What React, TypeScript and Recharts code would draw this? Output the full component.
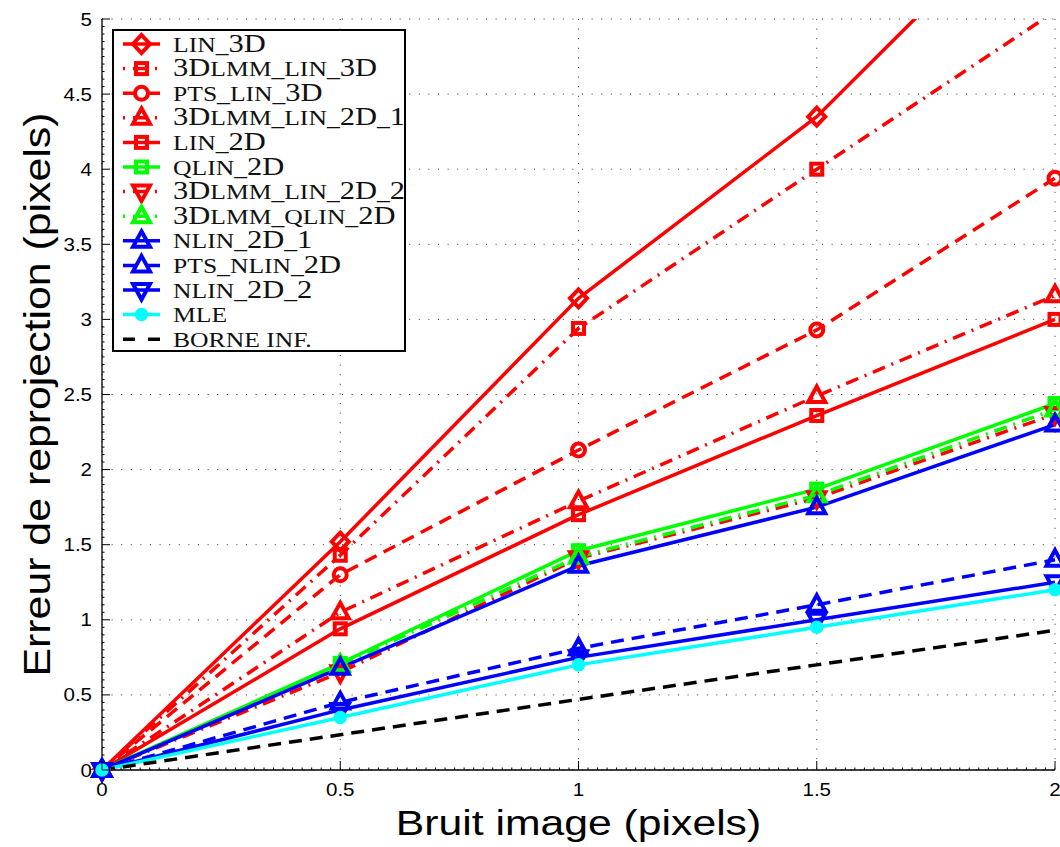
import React from 'react';
import { LineChart, Line, XAxis, YAxis, CartesianGrid, Legend } from 'recharts';

// ---- data ----
const noiseLevels = [0, 0.5, 1, 1.5, 2];

const lin3D = [0, 1.52, 3.14, 4.35, 5.93];
const dlmmLin3D = [0, 1.43, 2.94, 4.0, 5.05];
const ptsLin3D = [0, 1.3, 2.13, 2.93, 3.94];
const dlmmLin2D1 = [0, 1.05, 1.79, 2.49, 3.16];
const lin2D = [0, 0.94, 1.7, 2.36, 3.0];
const qlin2D = [0, 0.71, 1.46, 1.87, 2.44];
const dlmmLin2D2 = [0, 0.65, 1.41, 1.81, 2.37];
const dlmmQlin2D = [0, 0.7, 1.42, 1.83, 2.4];
const nlin2D1 = [0, 0.68, 1.36, 1.75, 2.3];
const ptsNlin2D = [0, 0.45, 0.81, 1.1, 1.4];
const nlin2D2 = [0, 0.4, 0.75, 1.0, 1.25];
const mle = [0, 0.35, 0.7, 0.95, 1.2];
const borneInf = [0, 0.235, 0.47, 0.7, 0.93];

const seriesLabels = [
  'LIN_3D', '3DLMM_LIN_3D', 'PTS_LIN_3D', '3DLMM_LIN_2D_1', 'LIN_2D', 'QLIN_2D',
  '3DLMM_LIN_2D_2', '3DLMM_QLIN_2D', 'NLIN_2D_1', 'PTS_NLIN_2D', 'NLIN_2D_2', 'MLE', 'BORNE INF.',
];

const xMajorTicks = [0, 0.5, 1, 1.5, 2];
const xTickLabels = ['0', '0.5', '1', '1.5', '2'];
const yMajorTicks = [0, 0.5, 1, 1.5, 2, 2.5, 3, 3.5, 4, 4.5, 5];
const yTickLabels = ['0', '0.5', '1', '1.5', '2', '2.5', '3', '3.5', '4', '4.5', '5'];
const xMinorTicks = Array.from({ length: 101 }, (_, i) => i / 50);
const yMinorTicks = Array.from({ length: 101 }, (_, i) => i / 20);

const xTitle = 'Bruit image (pixels)';
const yTitle = 'Erreur de reprojection (pixels)';

// ---- layout / styles ----
const Y_AXIS_WIDTH = 102;
const RED = '#ff0000';
const GREEN = '#00ff00';
const BLUE = '#0000ff';
const CYAN = '#00ffff';
const DASH = '13 8';
const DASHDOT = '13 7 2 7';

type Shape = 'diamond' | 'square' | 'circle' | 'triUp' | 'triDown' | 'dot' | 'none';
type Style = 'solid' | 'dash' | 'dashdot';
type SeriesDef = { key: string; label: string; values: number[]; color: string; style: Style; marker: Shape; clip?: boolean };

const series: SeriesDef[] = [
  { key: 's1', label: seriesLabels[0], values: lin3D, color: RED, style: 'solid', marker: 'diamond', clip: true },
  { key: 's2', label: seriesLabels[1], values: dlmmLin3D, color: RED, style: 'dashdot', marker: 'square', clip: true },
  { key: 's3', label: seriesLabels[2], values: ptsLin3D, color: RED, style: 'dash', marker: 'circle' },
  { key: 's4', label: seriesLabels[3], values: dlmmLin2D1, color: RED, style: 'dashdot', marker: 'triUp' },
  { key: 's5', label: seriesLabels[4], values: lin2D, color: RED, style: 'solid', marker: 'square' },
  { key: 's6', label: seriesLabels[5], values: qlin2D, color: GREEN, style: 'solid', marker: 'square' },
  { key: 's7', label: seriesLabels[6], values: dlmmLin2D2, color: RED, style: 'dashdot', marker: 'triDown' },
  { key: 's8', label: seriesLabels[7], values: dlmmQlin2D, color: GREEN, style: 'dashdot', marker: 'triUp' },
  { key: 's9', label: seriesLabels[8], values: nlin2D1, color: BLUE, style: 'solid', marker: 'triUp' },
  { key: 's10', label: seriesLabels[9], values: ptsNlin2D, color: BLUE, style: 'dash', marker: 'triUp' },
  { key: 's11', label: seriesLabels[10], values: nlin2D2, color: BLUE, style: 'solid', marker: 'triDown' },
  { key: 's12', label: seriesLabels[11], values: mle, color: CYAN, style: 'solid', marker: 'dot' },
  { key: 's13', label: seriesLabels[12], values: borneInf, color: '#000', style: 'dash', marker: 'none' },
];

const chartDash = (s: Style) => (s === 'dash' ? DASH : s === 'dashdot' ? DASHDOT : undefined);
const legendDash = (s: Style) => (s === 'dash' ? '12 13 12 20' : s === 'dashdot' ? '2 8 14 8 2 20' : undefined);

const data = noiseLevels.map((x, i) => {
  const row: Record<string, number> = { x };
  series.forEach((s) => { row[s.key] = s.values[i]; });
  return row;
});

const SANS = '"Liberation Sans", Arial, Helvetica, sans-serif';
const SERIF = '"Liberation Serif", "Times New Roman", serif';

function Marker({ shape, cx, cy, color }: { shape: Shape; cx: number; cy: number; color: string }) {
  if (cx == null || cy == null || isNaN(cx) || isNaN(cy)) return <g />;
  const sw = 4;
  const common = { fill: 'none', stroke: color, strokeWidth: sw, strokeLinejoin: 'miter' as const };
  switch (shape) {
    case 'diamond':
      return <polygon points={`${cx},${cy - 9} ${cx + 8.5},${cy} ${cx},${cy + 9} ${cx - 8.5},${cy}`} {...common} />;
    case 'square':
      return <rect x={cx - 5.5} y={cy - 5.5} width={11} height={11} {...common} />;
    case 'circle':
      return <circle cx={cx} cy={cy} r={6.5} {...common} />;
    case 'triUp':
      return <polygon points={`${cx},${cy - 9.5} ${cx + 8.5},${cy + 6} ${cx - 8.5},${cy + 6}`} {...common} />;
    case 'triDown':
      return <polygon points={`${cx},${cy + 9.5} ${cx + 8.5},${cy - 6} ${cx - 8.5},${cy - 6}`} {...common} />;
    case 'dot':
      return <circle cx={cx} cy={cy} r={6} fill={color} stroke={color} strokeWidth={1.5} />;
    default:
      return <g />;
  }
}

const findIdx = (list: number[], v: number) => list.findIndex((t) => Math.abs(t - v) < 1e-9);

function XTick(props: any) {
  const { x, y, payload } = props;
  const idx = findIdx(xMajorTicks, payload.value);
  const major = idx >= 0;
  return (
    <g>
      <line x1={x} x2={x} y1={y} y2={y - (major ? 9 : 2.5)} stroke="#000" strokeWidth={1} />
      {major && (
        <text transform={`translate(${x},${y + 26}) scale(1.14,1)`} textAnchor="middle" fontFamily={SANS} fontSize={18} fill="#000">
          {xTickLabels[idx]}
        </text>
      )}
    </g>
  );
}

function YTick(props: any) {
  const { y, payload } = props;
  const x = Y_AXIS_WIDTH;
  const idx = findIdx(yMajorTicks, payload.value);
  const major = idx >= 0;
  return (
    <g>
      <line x1={x} x2={x + (major ? 8 : 2.5)} y1={y} y2={y} stroke="#000" strokeWidth={1} />
      {major && (
        <text transform={`translate(${x - 10},${y + 6.5}) scale(1.14,1)`} textAnchor="end" fontFamily={SANS} fontSize={18} fill="#000">
          {yTickLabels[idx]}
        </text>
      )}
    </g>
  );
}

function renderXTitle(props: any) {
  const vb = props.viewBox || {};
  const cx = vb.x + vb.width / 2;
  return (
    <text transform={`translate(${cx},${vb.y + 65}) scale(1.22,1)`} textAnchor="middle" fontFamily={SANS} fontSize={35} fill="#000">
      {xTitle}
    </text>
  );
}

function renderYTitle(props: any) {
  const vb = props.viewBox || {};
  const cy = vb.y + vb.height / 2;
  return (
    <text transform={`translate(50,${cy}) rotate(-90) scale(1.19,1)`} textAnchor="middle" fontFamily={SANS} fontSize={36} fill="#000">
      {yTitle}
    </text>
  );
}

function capsParts(label: string) {
  const parts = label.match(/\d+D?|[^\d]+/g) || [];
  return parts.map((p, i) => (
    <tspan key={i} fontSize={/^\d/.test(p) ? 25 : 21}>{p}</tspan>
  ));
}

function LegendBox() {
  return (
    <svg width={294} height={323} style={{ display: 'block' }}>
      <rect x={1} y={1} width={292} height={321} fill="#fff" stroke="#000" strokeWidth={2} />
      {series.map((s, i) => {
        const cy = 15 + i * 24.6;
        return (
          <g key={s.key}>
            <line x1={11} x2={48} y1={cy} y2={cy} stroke={s.color} strokeWidth={3.5} strokeDasharray={legendDash(s.style)} />
            {s.marker !== 'none' && <Marker shape={s.marker} cx={29.5} cy={cy} color={s.color} />}
            <text transform={`translate(61,${cy + 7.5}) scale(1.22,1)`} fontFamily={SERIF} fontSize={25} fill="#111">
              {capsParts(s.label)}
            </text>
          </g>
        );
      })}
    </svg>
  );
}

export default function App() {
  return (
    <div style={{ position: 'absolute', left: 0, top: 0, width: 1060, height: 847, background: '#fff' }}>
      <LineChart width={1060} height={847} data={data} margin={{ top: 19, right: 5, bottom: 0, left: 0 }}>
        <CartesianGrid
          yAxisId="main"
          horizontalValues={yMajorTicks}
          verticalValues={xMajorTicks}
          stroke="#333"
          strokeWidth={1}
          strokeDasharray="1 8.6"
          fill="none"
        />
        <XAxis
          dataKey="x"
          type="number"
          domain={[0, 2]}
          ticks={xMinorTicks}
          interval={0}
          tickSize={0}
          tickMargin={0}
          tickLine={false}
          tick={<XTick />}
          axisLine={{ stroke: '#000', strokeWidth: 1.3 }}
          height={77}
          label={renderXTitle}
        />
        <YAxis
          yAxisId="main"
          type="number"
          domain={[0, 5]}
          ticks={yMinorTicks}
          interval={0}
          tickSize={0}
          tickMargin={0}
          tickLine={false}
          tick={<YTick />}
          axisLine={{ stroke: '#000', strokeWidth: 1.3 }}
          width={Y_AXIS_WIDTH}
          label={renderYTitle}
        />
        <YAxis yAxisId="clip" type="number" domain={[0, 5]} allowDataOverflow hide width={0} />
        {series.map((s) => (
          <Line
            key={s.key}
            yAxisId={s.clip ? 'clip' : 'main'}
            type="linear"
            dataKey={s.key}
            name={s.label}
            stroke={s.color}
            strokeWidth={3.5}
            strokeDasharray={chartDash(s.style)}
            isAnimationActive={false}
            activeDot={false}
            dot={
              s.marker === 'none'
                ? false
                : (p: any) => <Marker key={`${s.key}-${p.index}`} shape={s.marker} cx={p.cx} cy={p.cy} color={s.color} />
            }
          />
        ))}
        <Legend
          layout="vertical"
          align="center"
          verticalAlign="middle"
          wrapperStyle={{ left: 112, top: 29, width: 294, height: 323 }}
          content={() => <LegendBox />}
        />
      </LineChart>
    </div>
  );
}
